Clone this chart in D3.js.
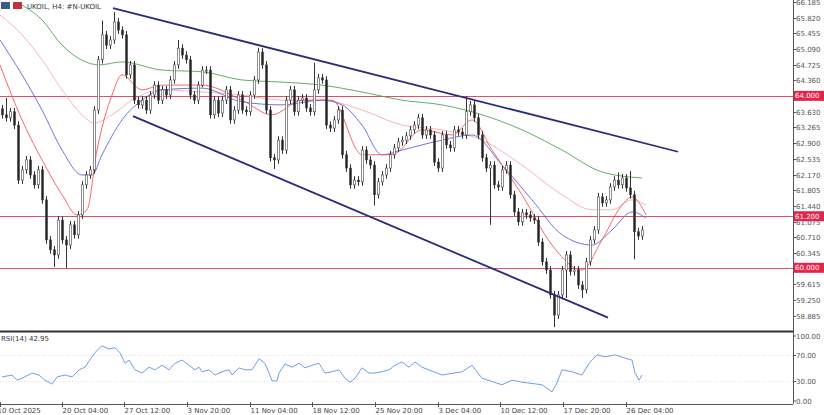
<!DOCTYPE html>
<html><head><meta charset="utf-8">
<script src="https://cdn.jsdelivr.net/npm/d3@7"></script>
<style>body{margin:0;background:#fff}svg{display:block;font-family:"DejaVu Sans",sans-serif}</style>
</head><body><div id="wrapper"></div>
<script>
// Data (H4 closes, one per bar)
const closes=[63.56,63.49,63.63,63.32,62.04,62.28,62.51,62.16,61.93,62.28,61.58,60.65,60.42,60.30,61.11,60.65,60.53,61.00,60.77,61.23,
61.93,62.16,62.28,63.67,64.84,65.42,65.18,65.30,65.72,65.53,65.42,64.49,64.72,63.90,63.79,63.90,63.67,64.02,64.25,63.90,
64.14,64.02,64.37,64.72,65.11,64.95,64.84,64.02,63.90,64.25,64.60,64.60,63.56,63.90,63.60,63.90,64.14,63.44,63.67,64.02,
63.67,63.63,64.02,64.37,65.02,64.72,63.67,62.56,62.51,62.97,62.74,63.90,64.14,63.63,63.90,63.95,63.72,63.63,64.14,64.42,
64.37,63.32,63.25,63.44,63.67,62.63,62.32,61.93,62.04,62.00,62.74,62.51,62.39,61.70,62.00,62.16,62.32,62.63,62.79,62.93,
62.97,63.07,63.21,63.32,63.49,63.09,63.21,63.09,62.46,62.32,63.09,62.86,62.79,63.21,63.16,63.09,63.63,63.79,63.49,63.09,
62.56,62.32,62.39,61.93,61.88,62.28,62.39,61.70,61.30,61.07,61.28,61.23,61.16,61.11,60.60,60.14,59.95,59.37,58.90,59.37,
59.95,60.30,59.91,59.95,59.60,59.49,60.14,60.65,60.88,61.65,61.51,61.58,61.88,62.04,61.93,62.09,61.86,61.70,60.84,60.74,60.88];
const firstOpen=63.70;
const spikeHigh=[[25,65.75],[28,65.95],[44,65.30],[64,65.12],[78,64.77],[116,64.00],[154,62.22],[157,62.25],[1,63.95]];
const spikeLow=[[13,60.02],[16,60.00],[50,64.20],[68,62.30],[93,61.45],[122,61.00],[138,58.62],[141,59.30],[145,59.30],[158,60.20]];
const maGreen=[[5,66.11],[10,65.77],[15,65.18],[20,64.83],[24.25,64.72],[30,64.79],[40,64.60],[50,64.56],[60,64.37],[70,64.32],[80,64.25],[90,64.09],[100,63.90],[110,63.79],[120,63.56],[130,63.21],[140,62.74],[150,62.23],[160,62.09]];
const maPink=[[-0.5,65.88],[5,65.42],[10,64.84],[15,64.14],[20,63.56],[23,63.37],[27.5,63.56],[32.5,63.90],[40,64.14],[50,64.09],[60,64.02],[70,63.90],[80,63.90],[90,63.67],[100,63.32],[110,63.21],[120,62.97],[130,62.39],[140,61.70],[147.5,61.35],[152.5,61.35],[157.5,61.58],[161,61.46]];
const maBlue=[[-0.5,65.30],[5,64.49],[10,63.67],[15,62.74],[20,62.16],[22.5,62.16],[25,62.63],[30,63.44],[35,63.90],[40,64.14],[50,64.18],[60,63.86],[70,63.79],[80,63.90],[85,63.79],[90,63.32],[95,62.63],[100,62.74],[110,62.97],[117.5,63.09],[125,62.39],[132.5,61.58],[140,60.77],[147.5,60.53],[152.5,60.88],[157.5,61.30],[161,61.16]];
const maRed=[[-0.5,64.72],[5,63.44],[10,62.51],[15,61.70],[18.75,61.23],[21.25,61.35],[23.75,62.74],[27.5,64.02],[30,64.49],[35,64.14],[40,64.25],[50,64.25],[60,63.90],[67.5,63.56],[75,63.90],[82.5,63.90],[90,62.63],[97.5,62.63],[105,63.21],[112.5,63.09],[117.5,63.44],[122.5,62.74],[130,61.70],[137.5,60.53],[145,59.95],[150,60.65],[155,61.46],[157.5,61.65],[161,61.23]];
const channelUpper=[[27.75,66.04],[169,62.70]];
const channelLower=[[32.75,63.53],[151.5,58.84]];
const levels=[64.000,61.200,60.000];
const priceTicks=[58.885,59.250,59.615,59.980,60.345,60.710,61.075,61.440,61.805,62.170,62.535,62.900,63.265,63.630,63.995,64.360,64.725,65.090,65.455,65.820,66.185];
const rsiTicks=[100,70,30,0];
const timeTickBars=[-0.5,15,30.5,46.25,62,77.5,93.25,109,124.5,140.25,156];
const timeTickLabels=["10 Oct 2025","20 Oct 04:00","27 Oct 12:00","3 Nov 20:00","11 Nov 04:00","18 Nov 12:00","25 Nov 20:00","3 Dec 04:00","10 Dec 12:00","17 Dec 20:00","26 Dec 04:00"];
const rsi=[[0,37],[2.5,40],[3.75,32],[5,35],[7.5,43],[9.25,40],[10.75,32],[12.5,26],[13.75,37],[15.75,40],[17.5,37],[19.25,48],[20.75,52],[22.5,68],[23.75,78],[25,85],[26.75,80],[28.25,82],[29.5,74],[30.75,58],[31.75,63],[33.25,48],[35,43],[36.75,52],[38.25,48],[40,55],[41.75,48],[43.25,58],[45,63],[46.75,55],[48.25,48],[49.25,52],[50,45],[51.75,48],[53.25,40],[55,45],[56.75,48],[57.5,40],[59.25,51],[60.75,48],[62.5,48],[64.25,65],[65.75,58],[66.75,43],[67.5,31],[68.75,31],[69.25,43],[70.75,57],[72.5,52],[74.25,58],[75.75,51],[77.5,55],[79.25,58],[80.75,43],[82.5,45],[84.25,48],[85.75,35],[87,29],[88.25,35],[90,51],[91.75,43],[93.25,43],[95,45],[96.75,48],[98.25,55],[100,60],[101.75,52],[103.25,60],[105,52],[110,40],[115,45],[117.5,55],[120,35],[125,25],[127.5,32],[130,29],[135,25],[137.5,14],[138.75,28],[140,48],[142.5,45],[145,40],[146.75,58],[148.75,71],[150.75,68],[153.25,71],[155.75,66],[157.5,63],[158.25,43],[159.25,32],[160,40]];
const rsiLast=42.95;

// Dimensions
const W=824,H=415,plotRight=793;
const svg=d3.select('#wrapper').append('svg').attr('width',W).attr('height',H);
const x=d3.scaleLinear().domain([-0.5,197.75]).range([0,plotRight]);
const y=d3.scaleLinear().domain([58.6,66.23]).range([328,0]);
const yr=d3.scaleLinear().domain([0,100]).range([401,336]);

svg.append('clipPath').attr('id','c').append('rect').attr('x',0).attr('y',0).attr('width',plotRight).attr('height',331);
const g=svg.append('g').attr('clip-path','url(#c)');

// levels
levels.forEach(v=>g.append('line').attr('x1',0).attr('x2',plotRight).attr('y1',Math.round(y(v))+0.5).attr('y2',Math.round(y(v))+0.5).attr('stroke','#e0506a').attr('stroke-width',1));

// moving averages
const line=d3.line().x(d=>x(d[0])).y(d=>y(d[1])).curve(d3.curveMonotoneX);
[[maGreen,'#4aa04a'],[maPink,'#f4a9a9'],[maBlue,'#5b5bd6'],[maRed,'#f05050']].forEach(([d,c])=>
  g.append('path').attr('d',line(d)).attr('fill','none').attr('stroke',c).attr('stroke-width',1).attr('opacity',0.85));

// candles
const hiMap=new Map(spikeHigh),loMap=new Map(spikeLow);
const candles=closes.map((c,i)=>{const o=i?closes[i-1]:firstOpen;
  return {i,o,c,h:hiMap.has(i)?hiMap.get(i):Math.max(o,c)+0.09,l:loMap.has(i)?loMap.get(i):Math.min(o,c)-0.09};});
const cg=g.selectAll('g.k').data(candles).enter().append('g');
cg.append('line').attr('x1',d=>Math.round(x(d.i))+0.5).attr('x2',d=>Math.round(x(d.i))+0.5)
  .attr('y1',d=>y(d.h)).attr('y2',d=>y(d.l)).attr('stroke','#333');
cg.append('rect').attr('x',d=>Math.round(x(d.i))-0.5).attr('width',2)
  .attr('y',d=>y(Math.max(d.o,d.c))).attr('height',d=>Math.max(1,Math.abs(y(d.o)-y(d.c))))
  .attr('fill',d=>d.c>=d.o?'#fff':'#222').attr('stroke','#444').attr('stroke-width',0.6);

// channel
[channelUpper,channelLower].forEach(d=>g.append('line').attr('x1',x(d[0][0])).attr('y1',y(d[0][1])).attr('x2',x(d[1][0])).attr('y2',y(d[1][1]))
  .attr('stroke','#2b2b78').attr('stroke-width',1.8));

// price axis
svg.append('line').attr('x1',plotRight+0.5).attr('x2',plotRight+0.5).attr('y1',0).attr('y2',404).attr('stroke','#555');
priceTicks.forEach(v=>{const yy=Math.round(y(v))+0.5;
  svg.append('line').attr('x1',plotRight).attr('x2',plotRight+3).attr('y1',yy).attr('y2',yy).attr('stroke','#555');
  svg.append('text').attr('x',plotRight+3).attr('y',yy+2.5).attr('font-size',7).attr('fill','#555').text(v.toFixed(3));});
levels.forEach(v=>{const yy=y(v);
  svg.append('rect').attr('x',plotRight+1).attr('y',yy-5).attr('width',30).attr('height',10).attr('fill','#e8234a');
  svg.append('text').attr('x',plotRight+2).attr('y',yy+2.5).attr('font-size',7).attr('fill','#fff').text(v.toFixed(3));});

// pane separator
svg.append('line').attr('x1',0).attr('x2',plotRight).attr('y1',331.5).attr('y2',331.5).attr('stroke','#333').attr('stroke-width',2);

// RSI pane
[70,30].forEach(v=>svg.append('line').attr('x1',0).attr('x2',plotRight).attr('y1',yr(v)).attr('y2',yr(v)).attr('stroke','#ddd').attr('stroke-dasharray','1,2'));
svg.append('path').attr('d',d3.line().x(d=>x(d[0])).y(d=>yr(d[1]))(rsi)).attr('fill','none').attr('stroke','#6fa0e6').attr('stroke-width',1);
rsiTicks.forEach(v=>{const yy=yr(v);
  svg.append('line').attr('x1',plotRight).attr('x2',plotRight+3).attr('y1',yy).attr('y2',yy).attr('stroke','#555');
  svg.append('text').attr('x',plotRight+3).attr('y',yy+2.5).attr('font-size',7).attr('fill','#555').text(v.toFixed(2));});
svg.append('text').attr('x',1).attr('y',341).attr('font-size',7).attr('fill','#333').text('RSI(14) '+rsiLast.toFixed(2));

// time axis
svg.append('line').attr('x1',0).attr('x2',plotRight).attr('y1',404.5).attr('y2',404.5).attr('stroke','#555');
timeTickBars.forEach((b,i)=>{const xx=Math.round(x(b))+0.5;
  svg.append('line').attr('x1',xx).attr('x2',xx).attr('y1',402).attr('y2',407).attr('stroke','#555');
  svg.append('text').attr('x',i?xx:xx-3).attr('y',413).attr('font-size',7).attr('fill','#444').text(timeTickLabels[i]);});

// header
svg.append('rect').attr('x',1).attr('y',2).attr('width',9).attr('height',7).attr('fill','#3a5a8a');
svg.append('rect').attr('x',13).attr('y',2).attr('width',9).attr('height',7).attr('fill','#c03040');
svg.append('text').attr('x',27).attr('y',8.5).attr('font-size',7).attr('fill','#333').text('UKOIL, H4:  #N-UKOIL');
</script></body></html>
